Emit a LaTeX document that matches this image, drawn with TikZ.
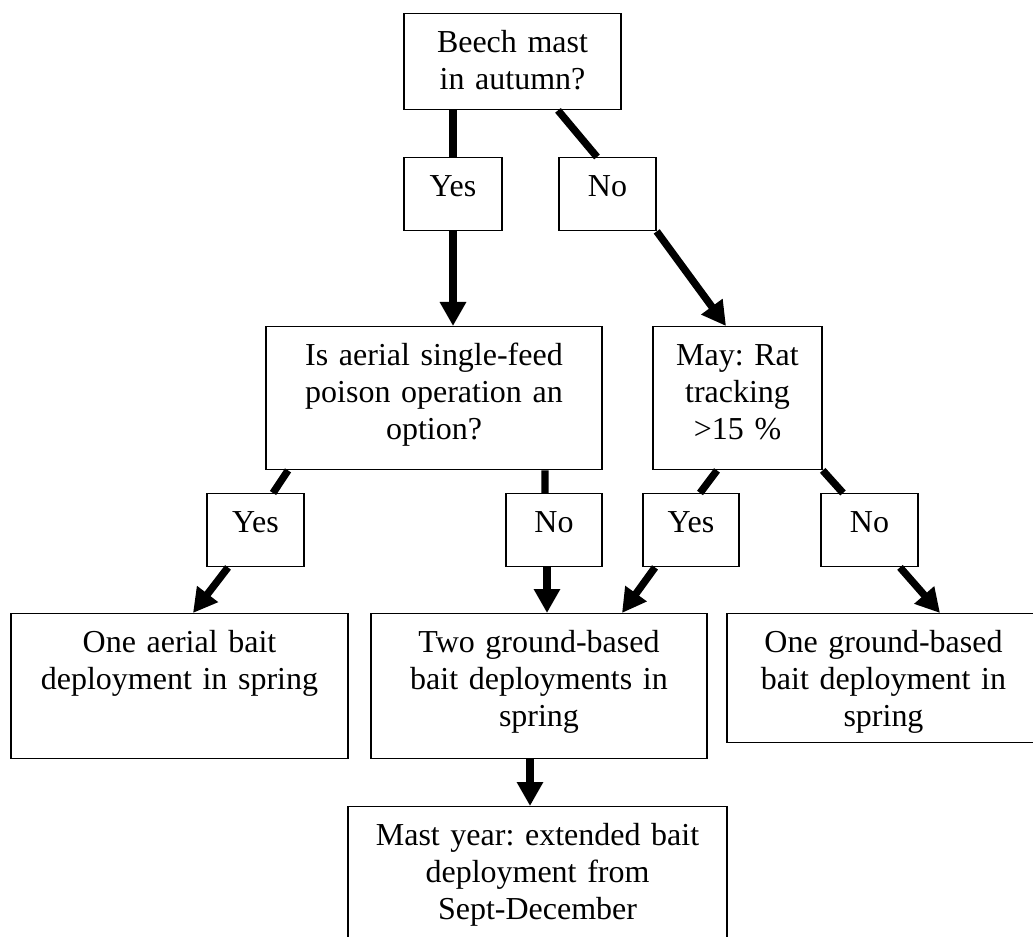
\documentclass[tikz,border=0pt]{standalone}
\usepackage{fontspec}
\setmainfont{Liberation Serif}
\usetikzlibrary{arrows.meta}
\frenchspacing

\begin{document}
\begin{tikzpicture}[
    box/.style={draw, line width=0.8pt, anchor=north, align=center,
      inner xsep=0pt, inner ysep=0pt, text height=0.78cm,
      font=\fontsize{18.2pt}{21.05pt}\selectfont},
    link/.style={line width=4.2pt},
    arr/.style={link, -{Triangle[width=0.5cm,length=0.48cm]}}]
  \useasboundingbox (0,0) rectangle (20.66,18.72);
  \clip (0,0) rectangle (20.66,18.72);

  % questions
  \node[box, text width=4.34cm, text depth=1.14cm] (beech) at (10.25,18.46)
    {Beech mast\\in autumn?};
  \node[box, text width=6.72cm, text depth=2.08cm] (aerial) at (8.68,12.20)
    {Is aerial single-feed\\poison operation an\\option?};
  \node[box, text width=3.38cm, text depth=2.08cm] (rat) at (14.75,12.20)
    {May: Rat\\tracking\\>15 \%};

  % answers
  \node[box, text width=1.96cm, text depth=0.68cm] (yesA) at (9.06,15.58) {Yes};
  \node[box, text width=1.94cm, text depth=0.68cm] (noA) at (12.15,15.58) {No};
  \node[box, text width=1.94cm, text depth=0.68cm] (yesB) at (5.11,8.86) {Yes};
  \node[box, text width=1.92cm, text depth=0.68cm] (noB) at (11.08,8.86) {No};
  \node[box, text width=1.92cm, text depth=0.68cm] (yesC) at (13.82,8.86) {Yes};
  \node[box, text width=1.94cm, text depth=0.68cm] (noC) at (17.39,8.86) {No};

  % outcomes
  \node[box, text width=6.74cm, text depth=2.12cm] (aerialbait) at (3.59,6.46)
    {One aerial bait\\deployment in spring};
  \node[box, text width=6.72cm, text depth=2.12cm] (twoground) at (10.78,6.46)
    {Two ground-based\\bait deployments in\\spring};
  \node[box, text width=6.26cm, text depth=1.80cm] (oneground) at (17.67,6.46)
    {One ground-based\\bait deployment in\\spring};
  \node[box, text width=7.58cm, text depth=2.22cm] (mast) at (10.75,2.60)
    {Mast year: extended bait\\deployment from\\Sept-December};

  \draw[link] (beech.south -| yesA.north) -- (yesA.north);
  \draw[link] ([xshift=0.91cm]beech.south) -- ([xshift=-0.21cm]noA.north);
  \draw[arr] (yesA.south) -- (yesA.south |- aerial.north);
  \draw[arr] (noA.south east) -- ([xshift=-0.23cm]rat.north);
  \draw[link] ([xshift=-2.92cm]aerial.south) -- ([xshift=0.35cm]yesB.north);
  \draw[link] ([xshift=2.22cm]aerial.south) -- ([xshift=-0.18cm]noB.north);
  \draw[link] ([xshift=-0.41cm]rat.south) -- ([xshift=0.18cm]yesC.north);
  \draw[link] (rat.south east) -- ([xshift=-0.53cm]noC.north);
  \draw[arr] ([xshift=-0.55cm]yesB.south) -- ([xshift=0.27cm]aerialbait.north);
  \draw[arr] ([xshift=-0.14cm]noB.south) -- ([xshift=0.16cm]twoground.north);
  \draw[arr] ([xshift=-0.72cm]yesC.south) -- ([xshift=1.66cm]twoground.north);
  \draw[arr] ([xshift=0.61cm]noC.south) -- ([xshift=1.13cm]oneground.north);
  \draw[arr] ([xshift=-0.18cm]twoground.south) -- ([xshift=-0.15cm]mast.north);
\end{tikzpicture}
\end{document}
